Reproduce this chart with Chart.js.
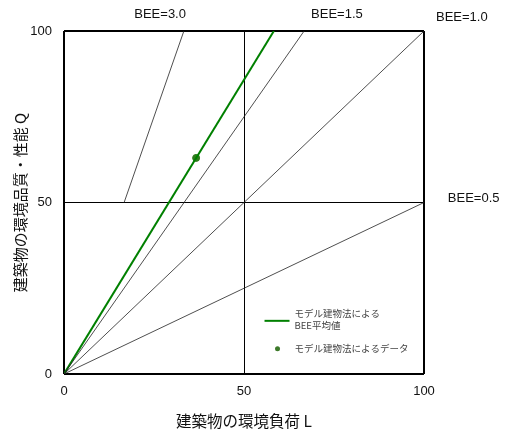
<!DOCTYPE html>
<html>
<head>
<meta charset="utf-8">
<script src="https://cdn.jsdelivr.net/npm/chart.js@4.4.0/dist/chart.umd.min.js"></script>
<style>
  html, body { margin: 0; padding: 0; background: #fff; }
  #wrap { width: 512px; height: 430px; position: relative; }
</style>
</head>
<body>
<div id="wrap"><canvas id="beeChart"></canvas></div>
<script>
// axis ticks and titles
const xTicks = [0, 50, 100];
const yTicks = [0, 50, 100];
const xTitle = "建築物の環境負荷 L";
const yTitle = "建築物の環境品質・性能 Q";

// BEE reference lines, as [L, Q] end points
const bee30Line = [[16.7, 50], [33.3, 100]];
const bee15Line = [[0, 0], [66.7, 100]];
const bee10Line = [[0, 0], [100, 100]];
const bee05Line = [[0, 0], [100, 50]];

// average BEE from the model building method, and the data point
const avgLine = [[0, 0], [58.3, 100]];
const dataPoint = [[36.7, 63]];

// BEE labels and where they sit, in axis units
const beeLabels = ["BEE=3.0", "BEE=1.5", "BEE=1.0", "BEE=0.5"];
const beeLabelPos = [[26.7, 104.7], [75.8, 104.7], [110.5, 104.1], [113.8, 51.3]];

const legendLines = [["モデル建物法による", "BEE平均値"], ["モデル建物法によるデータ"]];

const toXY = (pts) => pts.map(([x, y]) => ({ x, y }));

const refLine = (pts) => ({
  data: toXY(pts),
  showLine: true,
  borderColor: "#222",
  borderWidth: 0.8,
  pointRadius: 0,
});

const annotate = {
  id: "annotate",
  afterDraw(chart) {
    const { ctx, scales: { x, y } } = chart;
    ctx.save();
    ctx.fillStyle = "#111";
    ctx.font = "13px 'Liberation Sans', Arial, sans-serif";
    ctx.textAlign = "center";
    ctx.textBaseline = "middle";
    beeLabels.forEach((t, i) => {
      ctx.fillText(t, x.getPixelForValue(beeLabelPos[i][0]), y.getPixelForValue(beeLabelPos[i][1]));
    });

    // legend box inside the plot
    const lx = x.getPixelForValue(55.7);
    const ly = y.getPixelForValue(15.5);
    ctx.strokeStyle = "#008000";
    ctx.lineWidth = 2;
    ctx.beginPath();
    ctx.moveTo(lx, ly);
    ctx.lineTo(lx + 25, ly);
    ctx.stroke();
    ctx.fillStyle = "#3d7a2a";
    ctx.beginPath();
    ctx.arc(lx + 13, ly + 28, 2.5, 0, Math.PI * 2);
    ctx.fill();

    ctx.fillStyle = "#444";
    ctx.textAlign = "left";
    ctx.font = "9.5px 'Noto Sans CJK JP', sans-serif";
    ctx.fillText(legendLines[0][0], lx + 30, ly - 7);
    ctx.fillText(legendLines[0][1], lx + 30, ly + 5);
    ctx.fillText(legendLines[1][0], lx + 30, ly + 28);
    ctx.restore();
  },
};

const frameWidth = (c) => (c.tick && c.tick.value === 50 ? 1 : 2);

new Chart(document.getElementById("beeChart"), {
  type: "scatter",
  data: {
    datasets: [
      refLine(bee30Line),
      refLine(bee15Line),
      refLine(bee10Line),
      refLine(bee05Line),
      {
        data: toXY(avgLine),
        showLine: true,
        borderColor: "#008000",
        borderWidth: 2,
        pointRadius: 0,
      },
      {
        data: toXY(dataPoint),
        backgroundColor: "#2f7d1c",
        borderColor: "#2f7d1c",
        pointRadius: 3.5,
      },
    ],
  },
  options: {
    responsive: true,
    maintainAspectRatio: false,
    animation: false,
    layout: { padding: { top: 31, right: 88, left: 0, bottom: 0 } },
    plugins: { legend: { display: false }, tooltip: { enabled: false } },
    scales: {
      x: {
        type: "linear",
        min: 0,
        max: 100,
        afterBuildTicks: (s) => { s.ticks = xTicks.map((v) => ({ value: v })); },
        afterFit: (s) => { s.height = 56; },
        ticks: { color: "#111", padding: 10, font: { family: "'Liberation Sans', Arial", size: 13 } },
        grid: { color: "#000", lineWidth: frameWidth, drawTicks: false },
        border: { display: false },
        title: {
          display: true,
          text: xTitle,
          color: "#111",
          padding: { top: 3, bottom: 0 },
          font: { family: "'Noto Sans CJK JP', sans-serif", size: 15.5 },
        },
      },
      y: {
        type: "linear",
        min: 0,
        max: 100,
        afterBuildTicks: (s) => { s.ticks = yTicks.map((v) => ({ value: v })); },
        afterFit: (s) => { s.width = 64; },
        ticks: { color: "#111", padding: 12, font: { family: "'Liberation Sans', Arial", size: 13 } },
        grid: { color: "#000", lineWidth: frameWidth, drawTicks: false },
        border: { display: false },
        title: {
          display: true,
          text: yTitle,
          color: "#111",
          padding: { top: 11, bottom: 0 },
          font: { family: "'Noto Sans CJK JP', sans-serif", size: 15 },
        },
      },
    },
  },
  plugins: [annotate],
});
</script>
</body>
</html>
